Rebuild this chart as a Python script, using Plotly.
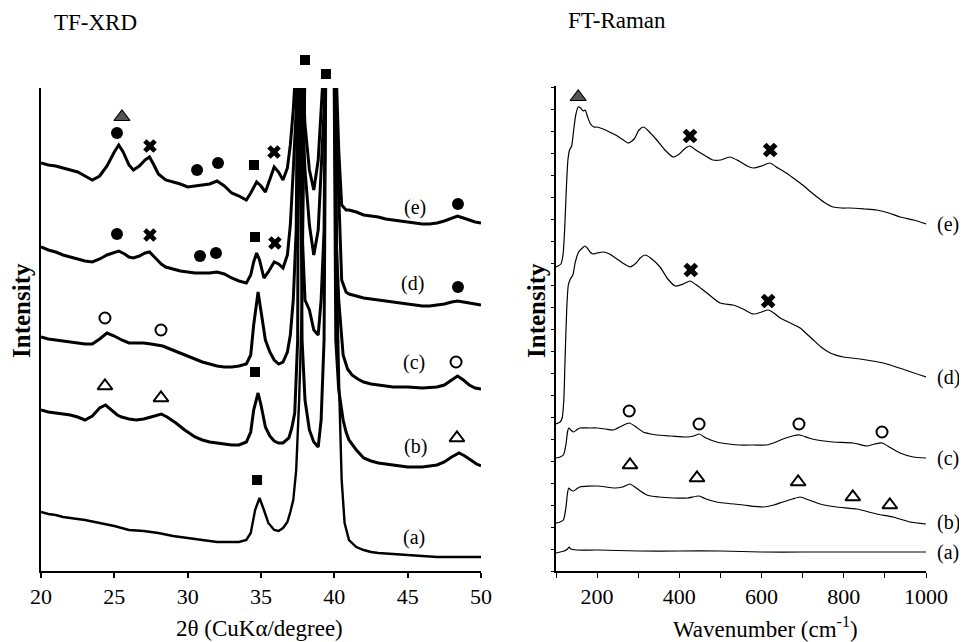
import plotly.graph_objects as go

# ---------------- TF-XRD (2theta, intensity a.u.) ----------------
xrd_e_x = [20.0, 20.5, 21.0, 21.5, 22.0, 22.5, 23.0, 23.5, 24.0, 24.5, 25.0, 25.3, 25.6, 26.0, 26.3, 26.7, 27.1, 27.4, 27.7, 28.0,
           28.5, 29.0, 29.5, 30.0, 30.5, 31.0, 31.5, 32.0, 32.5, 33.0, 33.5, 34.0, 34.3, 34.7, 35.0, 35.3, 35.6, 35.9, 36.2, 36.5,
           36.8, 37.0, 37.2, 37.4, 37.6, 37.8, 38.0, 38.3, 38.6, 38.9, 39.1, 39.3, 39.5, 39.9, 40.1, 40.3, 40.5, 40.8, 41.0, 41.5,
           42.0, 42.5, 43.0, 43.5, 44.0, 44.5, 45.0, 45.5, 46.0, 46.5, 47.0, 47.5, 48.0, 48.4, 48.8, 49.2, 49.6, 50.0]
xrd_e_y = [408, 406, 405, 403, 401, 399, 395, 391, 395, 405, 419, 426, 419, 406, 401, 405, 411, 414, 406, 397,
           391, 389, 387, 384, 385, 386, 387, 390, 385, 378, 375, 371, 378, 389, 385, 379, 391, 404, 399, 391,
           403, 426, 461, 511, 700, 511, 446, 401, 381, 411, 461, 511, 700, 700, 511, 421, 366, 361, 361, 359,
           356, 355, 354, 352, 351, 350, 349, 348, 347, 347, 348, 350, 353, 355, 353, 351, 349, 348]

xrd_d_x = [20.0, 20.5, 21.0, 21.5, 22.0, 22.5, 23.0, 23.5, 24.0, 24.5, 25.0, 25.3, 25.7, 26.0, 26.3, 26.7, 27.1, 27.4, 27.8, 28.2,
           28.5, 29.0, 29.5, 30.0, 30.5, 31.0, 31.5, 32.0, 32.5, 33.0, 33.5, 34.0, 34.3, 34.5, 34.7, 34.9, 35.2, 35.5, 35.9, 36.2,
           36.5, 36.8, 37.0, 37.2, 37.4, 37.6, 37.8, 38.0, 38.3, 38.6, 38.9, 39.1, 39.3, 39.5, 39.9, 40.1, 40.3, 40.5, 40.8, 41.0,
           41.5, 42.0, 42.5, 43.0, 43.5, 44.0, 44.5, 45.0, 45.5, 46.0, 46.5, 47.0, 47.5, 48.0, 48.4, 48.8, 49.2, 49.6, 50.0]
xrd_d_y = [324, 321, 319, 316, 314, 312, 310, 309, 312, 316, 319, 320, 317, 314, 313, 315, 318, 319, 313, 307,
           304, 302, 300, 299, 298, 298, 298, 299, 297, 293, 290, 288, 296, 309, 318, 311, 293, 299, 309, 307,
           303, 316, 346, 401, 461, 700, 461, 401, 346, 316, 341, 401, 461, 700, 700, 461, 371, 291, 279, 277,
           275, 273, 272, 271, 270, 269, 268, 267, 266, 265, 265, 266, 267, 269, 270, 269, 268, 267, 266]

xrd_c_x = [20.0, 20.5, 21.0, 21.5, 22.0, 22.5, 23.0, 23.5, 24.0, 24.5, 25.0, 25.5, 26.0, 26.5, 27.0, 27.5, 28.0, 28.3, 28.8, 29.5,
           30.0, 30.5, 31.0, 31.5, 32.0, 32.5, 33.0, 33.5, 34.0, 34.3, 34.5, 34.8, 35.0, 35.3, 35.6, 35.9, 36.2, 36.5, 36.8, 37.0,
           37.2, 37.4, 37.6, 37.8, 38.0, 38.3, 38.6, 38.9, 39.1, 39.3, 39.5, 39.9, 40.1, 40.3, 40.6, 40.9, 41.2, 41.6, 42.0, 42.5,
           43.0, 43.5, 44.0, 45.0, 46.0, 47.0, 47.5, 48.0, 48.4, 48.8, 49.2, 49.6, 50.0]
xrd_c_y = [234, 232, 231, 230, 229, 228, 227, 227, 232, 238, 235, 231, 228, 228, 228, 227, 226, 225, 222, 218,
           215, 212, 209, 207, 205, 204, 204, 205, 207, 216, 246, 279, 261, 231, 219, 211, 207, 209, 219, 236,
           271, 341, 700, 341, 271, 261, 241, 236, 271, 341, 700, 700, 341, 271, 216, 202, 196, 192, 189, 187,
           186, 185, 184, 184, 183, 184, 186, 191, 195, 191, 186, 183, 182]

xrd_b_x = [20.0, 20.5, 21.0, 21.5, 22.0, 22.5, 23.0, 23.5, 24.0, 24.4, 24.8, 25.2, 25.5, 26.0, 26.5, 27.0, 27.5, 28.0, 28.2, 28.6,
           29.2, 29.8, 30.5, 31.0, 31.5, 32.0, 32.5, 33.0, 33.5, 34.0, 34.3, 34.5, 34.8, 35.0, 35.3, 35.6, 35.9, 36.2, 36.5, 36.9,
           37.1, 37.3, 37.5, 37.6, 37.8, 38.0, 38.3, 38.6, 38.9, 39.1, 39.3, 39.5, 39.9, 40.1, 40.3, 40.6, 40.8, 41.0, 41.5, 42.0,
           42.5, 43.0, 44.0, 45.0, 46.0, 47.0, 47.5, 48.0, 48.5, 48.9, 49.3, 49.7, 50.0]
xrd_b_y = [161, 159, 158, 157, 156, 154, 151, 155, 163, 166, 161, 156, 154, 152, 151, 152, 154, 156, 157, 154,
           148, 141, 134, 131, 129, 128, 127, 126, 126, 129, 139, 161, 178, 166, 144, 135, 130, 128, 128, 133,
           143, 158, 231, 700, 231, 171, 141, 129, 124, 151, 231, 700, 700, 231, 181, 151, 139, 131, 121, 113,
           110, 108, 106, 104, 104, 106, 109, 114, 118, 115, 111, 107, 105]

xrd_a_x = [20.0, 20.5, 21.0, 21.5, 22.0, 23.0, 24.0, 25.0, 26.0, 27.0, 28.0, 29.0, 30.0, 31.0, 32.0, 33.0, 33.5, 34.0, 34.3, 34.6,
           34.9, 35.2, 35.5, 35.9, 36.2, 36.5, 36.8, 37.0, 37.2, 37.4, 37.6, 37.8, 38.0, 38.2, 40.0, 40.1, 40.2, 40.35, 40.5, 40.7,
           41.0, 41.5, 42.0, 42.5, 43.0, 44.0, 45.0, 46.0, 47.0, 48.0, 49.0, 50.0]
xrd_a_y = [59, 57, 56, 54, 53, 51, 48, 45, 41, 40, 38, 35, 33, 31, 29, 29, 29, 31, 38, 61,
           73, 61, 48, 41, 40, 43, 49, 59, 71, 101, 171, 271, 421, 700, 700, 421, 271, 171, 91, 48,
           31, 24, 21, 19, 18, 17, 16, 15, 14, 14, 14, 14]

# XRD phase markers (2theta, intensity)
xrd_square_x = [38.0, 39.43, 34.52, 34.59, 34.59, 34.73]
xrd_square_y = [511, 497, 406, 334, 199, 91]
xrd_dot_x = [25.18, 30.64, 32.07, 48.43, 25.18, 30.84, 31.93, 48.43]
xrd_dot_y = [438, 401, 408, 367, 337, 315, 318, 284]
xrd_cross_x = [27.43, 35.89, 27.43, 35.95]
xrd_cross_y = [425, 419, 336, 328]
xrd_ring_x = [24.36, 28.18, 48.30]
xrd_ring_y = [253, 241, 209]
xrd_otri_x = [24.36, 28.18, 48.36]
xrd_otri_y = [185, 173, 133]
xrd_gtri_x = [25.52]
xrd_gtri_y = [454]

xrd_labels = ["(e)", "(d)", "(c)", "(b)", "(a)"]
xrd_label_x = [45.5, 45.3, 45.43, 45.5, 45.43]
xrd_label_y = [364, 288, 209, 125, 34]

# ---------------- FT-Raman (wavenumber, intensity a.u.) ----------------
ram_e_x = [100, 112, 117, 121, 125, 129, 133, 138, 143, 148, 154, 160, 166, 171, 177, 184, 192, 200, 215, 230,
           245, 260, 276, 290, 302, 313, 325, 345, 365, 385, 400, 415, 426, 440, 460, 482, 500, 523, 545, 565,
           580, 600, 620, 640, 660, 677, 700, 720, 735, 755, 774, 795, 815, 850, 880, 910, 937, 970, 1000]
ram_e_y = [304, 307, 316, 341, 381, 411, 421, 425, 441, 456, 464, 463, 460, 461, 454, 447, 444, 444, 442, 439,
           436, 432, 428, 432, 441, 444, 440, 431, 421, 414, 417, 423, 425, 421, 416, 411, 411, 414, 410, 405,
           403, 405, 408, 403, 398, 393, 386, 379, 374, 368, 364, 363, 363, 362, 361, 358, 354, 351, 347]

ram_d_x = [100, 110, 115, 119, 122, 126, 130, 135, 141, 147, 155, 164, 170, 176, 183, 190, 200, 215, 230, 245,
           262, 280, 295, 305, 317, 330, 353, 372, 390, 410, 426, 445, 467, 499, 531, 555, 580, 600, 616, 630,
           645, 670, 694, 710, 726, 745, 767, 799, 840, 896, 950, 1000]
ram_d_y = [147, 149, 153, 171, 211, 261, 286, 292, 296, 309, 319, 323, 325, 323, 319, 317, 318, 319, 317, 313,
           308, 304, 308, 313, 316, 313, 304, 292, 285, 287, 290, 285, 278, 268, 266, 262, 257, 259, 261, 258,
           253, 248, 243, 237, 231, 224, 218, 214, 212, 208, 201, 194]

ram_c_x = [100, 110, 118, 124, 128, 131, 136, 143, 150, 158, 180, 200, 220, 239, 260, 278, 295, 312, 330, 345,
           380, 418, 435, 448, 465, 491, 520, 547, 580, 612, 635, 652, 675, 693, 715, 735, 774, 823, 856, 875,
           893, 915, 937, 969, 1000]
ram_c_y = [113, 114, 116, 126, 139, 143, 141, 139, 141, 143, 143, 143, 142, 141, 145, 148, 144, 139, 137, 136,
           135, 134, 135, 137, 133, 129, 127, 126, 126, 126, 129, 132, 135, 136, 133, 131, 129, 128, 125, 127,
           128, 123, 118, 114, 113]

ram_b_x = [100, 110, 118, 124, 128, 131, 136, 143, 150, 158, 200, 243, 262, 280, 295, 321, 350, 385, 420, 448,
           465, 491, 556, 604, 630, 652, 675, 694, 715, 742, 783, 832, 880, 920, 961, 1000]
ram_b_y = [48, 49, 51, 63, 78, 83, 81, 80, 82, 84, 85, 83, 84, 87, 83, 76, 74, 73, 73, 75,
           72, 69, 66, 64, 66, 69, 72, 74, 71, 67, 64, 62, 57, 54, 49, 47]

ram_a_x = [100, 110, 120, 128, 132, 136, 150, 200, 300, 400, 500, 600, 700, 800, 900, 1000]
ram_a_y = [18, 19, 20, 22, 24, 22, 21, 21, 20, 20, 20, 19, 19, 19, 19, 19]

ram_cross_x = [426, 621, 428, 616]
ram_cross_y = [435, 421, 301, 270]
ram_gtri_x = [154]
ram_gtri_y = [474]
ram_ring_x = [278, 448, 691, 893]
ram_ring_y = [160, 147, 147, 139]
ram_otri_x = [280, 443, 689, 822, 912]
ram_otri_y = [106, 93, 89, 74, 66]

ram_labels = ["(e)", "(d)", "(c)", "(b)", "(a)"]
ram_label_py = [224, 377, 458, 522, 552]

W, H = 967, 642
SERIF = "Liberation Serif, Times New Roman, serif"

# the page body adds an 8px inset; positions below are window pixels
OFF_X, OFF_Y = 8, 8


def fx(px):
    return (px - OFF_X) / W


def fy(py):
    return 1 - (py - OFF_Y) / H


fig = go.Figure()

for xs, ys in [(xrd_e_x, xrd_e_y), (xrd_d_x, xrd_d_y), (xrd_c_x, xrd_c_y), (xrd_b_x, xrd_b_y)]:
    fig.add_trace(go.Scatter(x=xs, y=ys, mode="lines", line=dict(color="black", width=3),
                             xaxis="x", yaxis="y", showlegend=False, hoverinfo="skip"))
fig.add_trace(go.Scatter(x=xrd_a_x, y=xrd_a_y, mode="lines", line=dict(color="black", width=2.4),
                         xaxis="x", yaxis="y", showlegend=False, hoverinfo="skip"))

for xs, ys in [(ram_e_x, ram_e_y), (ram_d_x, ram_d_y), (ram_c_x, ram_c_y), (ram_b_x, ram_b_y), (ram_a_x, ram_a_y)]:
    fig.add_trace(go.Scatter(x=xs, y=ys, mode="lines", line=dict(color="black", width=1.2, shape="spline", smoothing=0.6),
                             xaxis="x2", yaxis="y2", showlegend=False, hoverinfo="skip"))


def markers(xs, ys, ax, ay, symbol, size, color="black", lw=0, lc="black"):
    fig.add_trace(go.Scatter(x=xs, y=ys, mode="markers", xaxis=ax, yaxis=ay, cliponaxis=False,
                             marker=dict(symbol=symbol, size=size, color=color, line=dict(width=lw, color=lc)),
                             showlegend=False, hoverinfo="skip"))


# XRD markers sit on a hidden, taller copy of the intensity axis (same px per unit)
markers(xrd_square_x, xrd_square_y, "x", "y3", "square", 10)
markers(xrd_dot_x, xrd_dot_y, "x", "y3", "circle", 12)
markers(xrd_cross_x, xrd_cross_y, "x", "y3", "x", 12)
markers(xrd_ring_x, xrd_ring_y, "x", "y3", "circle-open", 11, lw=2)
markers(xrd_otri_x, xrd_otri_y, "x", "y3", "triangle-up-open", 13, lw=2)
markers(xrd_gtri_x, xrd_gtri_y, "x", "y3", "triangle-up", 14, color="#555555", lw=1.2)

markers(ram_cross_x, ram_cross_y, "x2", "y2", "x", 13)
markers(ram_gtri_x, ram_gtri_y, "x2", "y2", "triangle-up", 14, color="#555555", lw=1.2)
markers(ram_ring_x, ram_ring_y, "x2", "y2", "circle-open", 11, lw=2)
markers(ram_otri_x, ram_otri_y, "x2", "y2", "triangle-up-open", 13, lw=2)

annotations = []
for t, x, y in zip(xrd_labels, xrd_label_x, xrd_label_y):
    annotations.append(dict(text=t, x=x, y=y, xref="x", yref="y", showarrow=False,
                            font=dict(family=SERIF, size=20, color="black")))


def px_note(text, x, y, size, angle=0, anchor="center"):
    annotations.append(dict(text=text, x=fx(x), y=fy(y), xref="paper", yref="paper", showarrow=False,
                            textangle=angle, xanchor=anchor, yanchor="middle",
                            font=dict(family=SERIF, size=size, color="black")))


for t, py in zip(ram_labels, ram_label_py):
    px_note(t, 935, py, 20, anchor="left")

px_note("TF-XRD", 52, 22, 23, anchor="left")
px_note("FT-Raman", 566, 20, 23, anchor="left")
px_note("<b>Intensity</b>", 21, 311, 25, angle=-90)
px_note("<b>Intensity</b>", 536, 311, 25, angle=-90)
px_note("2θ (CuKα/degree)", 259, 628, 23)
px_note("Wavenumber (cm<sup>-1</sup>)", 765, 627, 23)

axis_font = dict(family=SERIF, size=22, color="black")

fig.update_layout(
    width=W, height=H,
    margin=dict(l=0, r=0, t=0, b=0),
    paper_bgcolor="white", plot_bgcolor="rgba(0,0,0,0)",
    annotations=annotations,
    xaxis=dict(domain=[fx(41), fx(481)], range=[20, 50], tickvals=[20, 25, 30, 35, 40, 45, 50],
               ticks="outside", ticklen=5, tickwidth=1.5, tickcolor="black",
               showline=True, linecolor="black", linewidth=1.8, showgrid=False, zeroline=False,
               tickfont=axis_font, anchor="y", automargin=False),
    yaxis=dict(domain=[fy(571), fy(88)], range=[0, 483], showticklabels=False, ticks="",
               showline=True, linecolor="black", linewidth=1.8, showgrid=False, zeroline=False, anchor="x",
               automargin=False),
    yaxis3=dict(domain=[fy(571), fy(40)], range=[0, 531], visible=False, anchor="x",
                showgrid=False, zeroline=False, automargin=False),
    xaxis2=dict(domain=[fx(556), fx(926)], range=[100, 1000],
                tickvals=[200, 400, 600, 800, 1000],
                ticks="outside", ticklen=5, tickwidth=1.2, tickcolor="black",
                minor=dict(tick0=100, dtick=100, ticks="outside", ticklen=5, tickwidth=1.2, tickcolor="black"),
                showline=True, linecolor="black", linewidth=1.8, showgrid=False, zeroline=False,
                tickfont=axis_font, anchor="y2", automargin=False),
    yaxis2=dict(domain=[fy(571), fy(86)], range=[0, 485], tick0=0, dtick=22, showticklabels=False,
                ticks="outside", ticklen=3, tickwidth=1.2, tickcolor="black",
                showline=True, linecolor="black", linewidth=1.8, showgrid=False, zeroline=False, anchor="x2",
                automargin=False),
)

fig.write_html("out.html")
